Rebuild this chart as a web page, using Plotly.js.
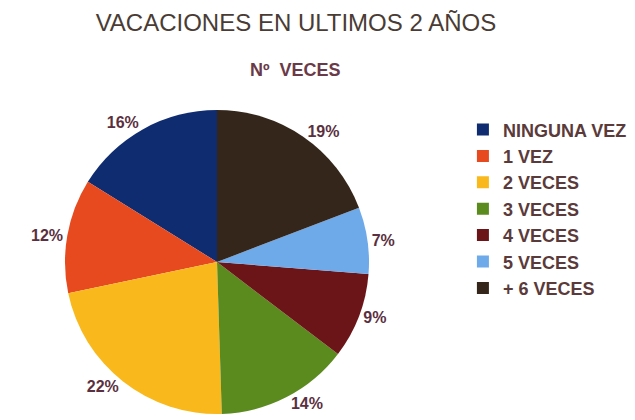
<!DOCTYPE html>
<html><head><meta charset="utf-8">
<script src="https://cdn.plot.ly/plotly-3.0.1.min.js"></script>
<style>body{margin:0;background:#fff}</style>
</head><body><div id="chart" style="width:635px;height:420px"></div>
<script>
const categories = ["NINGUNA VEZ","1 VEZ","2 VECES","3 VECES","4 VECES","5 VECES","+ 6 VECES"];
const values = [16, 12, 22, 14, 9, 7, 19];
const colors = ["#0e2c6f","#e64a1e","#f9b91c","#5b8b1f","#6b1518","#6ea9ea","#35261b"];

const total = values.reduce((a, b) => a + b, 0);
const cx = 217, cy = 262, r = 152, W = 635, H = 420;
const trace = {
  type: "pie",
  labels: categories,
  values: values,
  sort: false,
  direction: "counterclockwise",
  rotation: -360 * values[0] / total,
  marker: {colors: colors, line: {width: 0}},
  texttemplate: "%{value}%",
  textposition: "outside",
  outsidetextfont: {family: "Liberation Sans, Arial", size: 16, color: "#5a3040", weight: "bold"},
  hoverinfo: "none",
  domain: {x: [(cx - r) / W, (cx + r) / W], y: [(H - cy - r) / H, (H - cy + r) / H]}
};
const layout = {
  width: W, height: H,
  margin: {l: 0, r: 0, t: 0, b: 0},
  paper_bgcolor: "#fff",
  title: {text: "VACACIONES EN ULTIMOS 2 AÑOS", x: 0.466, xanchor: "center", y: 0.947, yanchor: "middle",
          font: {family: "Liberation Sans, Arial", size: 24, color: "#4a3c34"}},
  annotations: [{text: "<b>Nº  VECES</b>", x: 0.466, y: 0.862, xref: "paper", yref: "paper", showarrow: false,
                 font: {family: "Liberation Sans, Arial", size: 18, color: "#6a3a48"}}],
  legend: {x: 0.729, y: 0.735, xanchor: "left", yanchor: "top", tracegroupgap: 0, itemwidth: 30,
           font: {family: "Liberation Sans, Arial", size: 18, color: "#5b3a3a", weight: "bold"}},
  showlegend: true
};
Plotly.newPlot("chart", [trace], layout, {displayModeBar: false, staticPlot: true});
</script></body></html>
